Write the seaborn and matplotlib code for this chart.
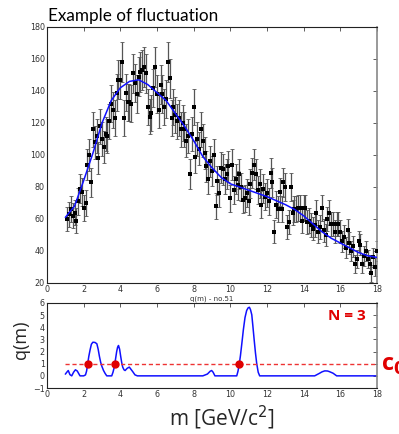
import numpy as np
import pandas as pd
import matplotlib
matplotlib.use("Agg")
import matplotlib.pyplot as plt
import seaborn as sns

# ---- data: measured spectrum (mass in GeV/c^2, counts) ----
mass = [round(1.1 + 0.1 * i, 1) for i in range(170)]
counts = [
    60, 63, 66, 62, 64, 59, 71, 79, 77, 67,          # 1.1-2.0
    70, 94, 100, 83, 116, 108, 112, 98, 118, 110,    # 2.1-3.0
    105, 113, 112, 121, 132, 128, 123, 139, 147, 147,  # 3.1-4.0
    158, 123, 139, 133, 133, 132, 151, 145, 138, 149,  # 4.1-5.0
    152, 153, 155, 151, 130, 124, 126, 142, 155, 138,  # 5.1-6.0
    128, 144, 138, 130, 135, 158, 148, 123, 130, 125,  # 6.1-7.0
    121, 123, 116, 120, 116, 109, 112, 88, 113, 130,   # 7.1-8.0
    99, 110, 104, 116, 109, 101, 93, 85, 96, 90,       # 8.1-9.0
    100, 68, 84, 76, 92, 91, 85, 88, 93, 73,           # 9.1-10.0
    94, 78, 85, 81, 88, 80, 72, 73, 76, 71,            # 10.1-11.0
    82, 89, 94, 88, 78, 82, 69, 79, 74, 76,            # 11.1-12.0
    71, 89, 83, 52, 69, 66, 77, 66, 83, 80,            # 12.1-13.0
    55, 58, 80, 64, 66, 66, 67, 67, 59, 67,            # 13.1-14.0
    67, 58, 59, 56, 54, 56, 64, 52, 55, 67,            # 14.1-15.0
    53, 50, 60, 64, 57, 57, 52, 57, 57, 52,            # 15.1-16.0
    46, 49, 42, 53, 45, 40, 43, 32, 35, 46,            # 16.1-17.0
    44, 32, 37, 40, 35, 32, 26, 36, 30, 40,            # 17.1-18.0
]

# ---- smooth fit curve ----
fit_m = [1.0, 1.5, 2.0, 2.5, 3.0, 3.5, 4.0, 4.5, 5.0, 5.5, 6.0, 6.5, 7.0, 7.5,
         8.0, 8.5, 9.0, 9.5, 10.0, 10.5, 11.0, 11.5, 12.0, 12.5, 13.0, 13.5,
         14.0, 14.5, 15.0, 15.5, 16.0, 16.5, 17.0, 17.5, 18.0]
fit_v = [61, 68, 84, 101, 120, 134, 142, 146, 147, 144, 139, 134, 126, 118,
         109, 99, 92, 86, 82, 80, 78, 76, 74, 71.5, 69, 66,
         62, 57, 52, 48, 45, 42, 39, 37, 36]

# ---- fluctuation measure q(m) ----
q_m = [1.0, 1.08, 1.16, 1.25, 1.35, 1.45, 1.55, 1.65, 1.8, 2.0, 2.1, 2.16, 2.22,
       2.28, 2.35, 2.42, 2.5, 2.62, 2.72, 2.79, 2.86, 2.93, 2.99, 3.08, 3.17,
       3.26, 3.53, 3.6, 3.65, 3.7, 3.75, 3.8, 3.85, 3.9, 3.96, 4.02, 4.08, 4.13,
       4.2, 4.26, 4.38, 4.49, 4.67, 4.8, 4.93, 8.5, 8.75, 8.9, 8.98, 9.06, 9.16,
       10.35, 10.42, 10.49, 10.55, 10.6, 10.66, 10.71, 10.8, 10.89, 10.97,
       11.04, 11.1, 11.17, 11.23, 11.3, 11.37, 11.44, 11.52, 11.6,
       14.6, 14.85, 15.0, 15.15, 15.3, 15.4, 15.6, 15.8, 18.0]
q_v = [0.14, 0.3, 0.44, 0.1, 0.0, 0.3, 0.5, 0.4, 0.0, 0.0, 0.08, 0.4, 1.0,
       1.6, 2.14, 2.6, 2.77, 2.75, 2.64, 2.2, 1.6, 1.1, 0.8, 0.45, 0.2,
       0.0, 0.0, 0.3, 0.6, 1.0, 1.5, 2.0, 2.35, 2.5, 2.2, 1.6, 1.05, 0.72,
       0.5, 0.44, 0.63, 0.72, 0.36, 0.08, 0.0, 0.0, 0.15, 0.38, 0.44, 0.3, 0.0,
       0.0, 0.4, 1.0, 1.65, 2.3, 3.1, 3.79, 4.8, 5.38, 5.6,
       5.65, 5.45, 5.03, 4.1, 2.97, 1.9, 1.0, 0.3, 0.0,
       0.0, 0.2, 0.33, 0.41, 0.4, 0.35, 0.22, 0.0, 0.0]

crossings_m = [2.22, 3.7, 10.49]
crossings_q = [1.0, 1.0, 1.0]
c0_level = 1.0
n_label = "N = 3"

df = pd.DataFrame({"m": mass, "n": counts})
df["err"] = np.sqrt(df["n"])
fit_df = pd.DataFrame({"m": fit_m, "v": fit_v})
q_df = pd.DataFrame({"m": q_m, "q": q_v})
cross_df = pd.DataFrame({"m": crossings_m, "q": crossings_q})

sns.set_style("white")
plt.rcParams["font.family"] = ["DejaVu Sans"]

fig = plt.figure(figsize=(3.99, 4.34), dpi=100)
W, H = 399, 434
ax1 = fig.add_axes([47 / W, 1 - 283 / H, 330 / W, 256 / H])
ax2 = fig.add_axes([47 / W, 1 - 388 / H, 330 / W, 85 / H])

red = "#e00000"
tick_col = "#333333"

# top panel
ax1.errorbar(df["m"], df["n"], yerr=df["err"], fmt="none", ecolor="#555555",
             elinewidth=0.9, capsize=1.2, capthick=0.6, zorder=1)
sns.scatterplot(data=df, x="m", y="n", ax=ax1, color="black", s=11,
                marker="s", edgecolor="black", linewidth=0, zorder=3)
sns.lineplot(data=fit_df, x="m", y="v", ax=ax1, color="#1010ff", linewidth=1.1,
             zorder=4)
ax1.set_xlim(0, 18)
ax1.set_ylim(20, 180)
ax1.set_xticks(range(0, 19, 2))
ax1.set_yticks(range(20, 181, 20))
ax1.set_xlabel("")
ax1.set_ylabel("")

# bottom panel
sns.lineplot(data=q_df, x="m", y="q", ax=ax2, color="#1010ff", linewidth=1.1)
ax2.plot([1.0, 18.0], [c0_level, c0_level], linestyle=(0, (3, 2)),
         color="#ee3333", linewidth=1.0, zorder=2)
sns.scatterplot(data=cross_df, x="m", y="q", ax=ax2, color=red, s=36,
                edgecolor=red, linewidth=0, zorder=5)
ax2.set_xlim(0, 18)
ax2.set_ylim(-1, 6)
ax2.set_xticks(range(0, 19, 2))
ax2.set_yticks(range(-1, 7))
ax2.set_xlabel("")
ax2.set_ylabel("")

for ax in (ax1, ax2):
    ax.tick_params(direction="in", top=True, right=True, length=3, width=0.6,
                   labelsize=5.8, labelcolor=tick_col, color="#444444", pad=1.5)
    for s in ax.spines.values():
        s.set_color("#222222")
        s.set_linewidth(0.8)
    ax.spines["right"].set_color("#888888")
    ax.spines["right"].set_linewidth(1.2)

fig.text(48 / W, 1 - 21 / H, "Example of fluctuation", fontsize=12.3,
         family=["Lato", "DejaVu Sans"], ha="left",
         va="baseline", color="black")
fig.text(212 / W, 1 - 298.5 / H, "q(m) - no.51", fontsize=5.0, color="#333333",
         ha="center", va="center")
fig.text(21 / W, 1 - 340 / H, "q(m)", fontsize=13, rotation=90, ha="center",
         va="center", family=["Open Sans", "DejaVu Sans"])
fig.text(222 / W, 1 - 418 / H, "m [GeV/c$^2$]", fontsize=15, ha="center",
         va="center", family=["Open Sans", "DejaVu Sans"])
fig.text(347 / W, 1 - 316.5 / H, n_label, fontsize=11, fontweight="bold",
         color=red, ha="center", va="center", family=["Open Sans", "DejaVu Sans"])
fig.text(381 / W, 1 - 365 / H, "c$_\\mathbf{0}$", fontsize=17, fontweight="bold",
         color=red, ha="left", va="center", family=["Open Sans", "DejaVu Sans"])

fig.savefig("out.png", dpi=100)
